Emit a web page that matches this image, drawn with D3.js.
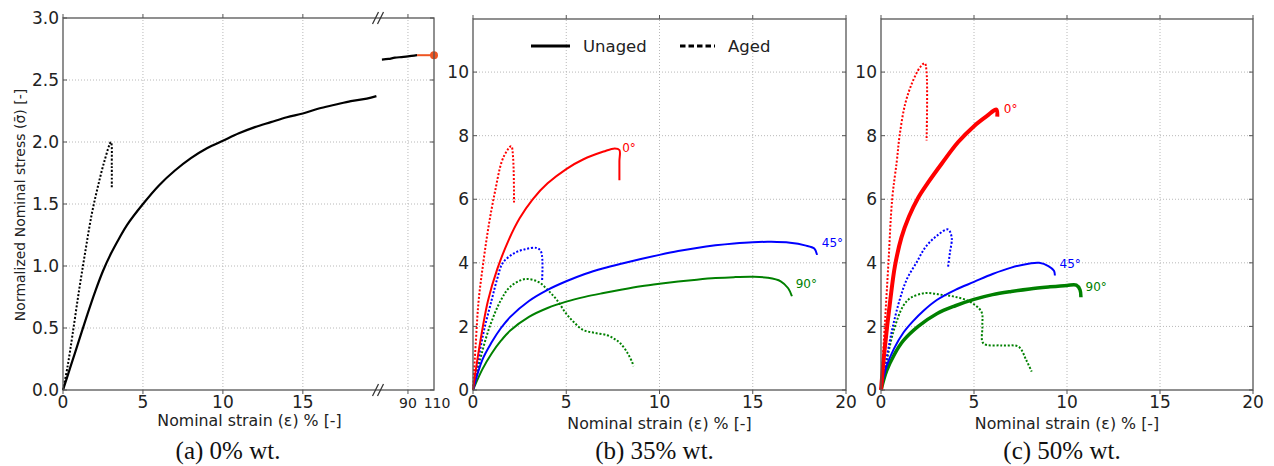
<!DOCTYPE html>
<html><head><meta charset="utf-8">
<script src="https://cdn.jsdelivr.net/npm/d3@7"></script>
<style>body{margin:0;background:#fff}svg{display:block}</style>
</head><body>
<script>
// ---------- tick labels ----------
const stressTicksA = [0, 0.5, 1.0, 1.5, 2.0, 2.5, 3.0];
const strainTicksA1 = [0, 5, 10, 15];
const strainTicksA2 = [90, 110];
const strainTicksBC = [0, 5, 10, 15, 20];
const stressTicksBC = [0, 2, 4, 6, 8, 10];

// ---------- panel (a) 0% wt. ----------
const a_unaged = [[0,0],[0.5,0.2],[1,0.4],[1.5,0.6],[2,0.79],[2.5,0.96],[3,1.1],[3.5,1.22],[4,1.33],[5,1.5],[6,1.65],[7,1.77],[8,1.87],[9,1.95],[10,2.01],[11,2.07],[12,2.12],[13,2.16],[14,2.2],[15,2.23],[16,2.27],[17,2.3],[18,2.33],[19,2.35],[19.6,2.37]];
const a_aged = [[0,0],[0.3,0.2],[0.6,0.45],[1.0,0.8],[1.4,1.12],[1.8,1.42],[2.2,1.65],[2.6,1.85],[3.0,2.0],[3.05,1.8],[3.05,1.63]];
const a_unaged_tail = [[70,2.665],[75,2.67],[80,2.68],[85,2.685],[90,2.69],[97,2.70]];
const a_tail_red = [[97,2.70],[110,2.70]];

// ---------- panel (b) 35% wt. ----------
const b_red_unaged = [[0,0],[0.3,1.2],[0.8,2.8],[1.3,3.8],[1.9,4.7],[2.5,5.4],[3.2,6.0],[4,6.5],[5,6.95],[5.9,7.25],[7,7.5],[7.6,7.6],[7.85,7.55],[7.85,7.2],[7.85,6.6]];
const b_red_aged = [[0,0],[0.15,1.5],[0.3,2.8],[0.55,4.0],[0.85,5.2],[1.2,6.3],[1.55,7.2],[1.85,7.55],[2.05,7.67],[2.15,7.3],[2.2,5.9]];
const b_blue_unaged = [[0,0],[0.5,0.95],[1,1.5],[1.5,1.95],[2,2.3],[3,2.8],[4,3.15],[5,3.42],[6,3.65],[7,3.83],[8,3.98],[9,4.12],[10,4.25],[11,4.37],[12,4.47],[13,4.55],[14,4.61],[15,4.65],[16,4.66],[17,4.63],[17.8,4.55],[18.3,4.45],[18.45,4.25]];
const b_blue_aged = [[0,0],[0.3,1.0],[0.6,1.9],[1.0,2.83],[1.3,3.5],[1.6,4.0],[2.2,4.3],[2.8,4.43],[3.4,4.47],[3.65,4.35],[3.7,3.4]];
const b_green_unaged = [[0,0],[0.5,0.65],[1,1.15],[1.5,1.55],[2,1.87],[3,2.3],[4,2.58],[5,2.78],[6,2.93],[7,3.05],[8,3.16],[9,3.26],[10,3.34],[11,3.41],[12,3.47],[13,3.52],[14,3.55],[15,3.56],[15.8,3.53],[16.5,3.42],[16.9,3.2],[17.1,2.95]];
const b_green_aged = [[0,0],[0.4,1.0],[0.9,2.0],[1.5,2.83],[2.0,3.25],[2.8,3.49],[3.5,3.4],[4.0,3.15],[4.5,2.83],[5.0,2.4],[5.4,2.14],[5.9,1.89],[6.5,1.8],[7.2,1.72],[7.6,1.6],[7.9,1.47],[8.3,1.15],[8.55,0.85],[8.6,0.75]];

// ---------- panel (c) 50% wt. ----------
const c_red_unaged = [[0,0],[0.2,1.3],[0.5,2.83],[0.75,3.9],[1.1,4.8],[1.5,5.45],[2,6.05],[2.5,6.5],[3.3,7.15],[4.15,7.8],[5,8.3],[5.7,8.62],[6.2,8.82],[6.25,8.6]];
const c_red_aged = [[0,0],[0.2,2.0],[0.4,4.0],[0.6,6.0],[0.85,7.2],[1.0,8.0],[1.3,9.0],[1.7,9.7],[2.1,10.15],[2.35,10.28],[2.45,10.0],[2.45,7.85]];
const c_blue_unaged = [[0,0],[0.3,0.75],[0.7,1.3],[1.2,1.8],[1.7,2.15],[2.3,2.5],[3.0,2.83],[4,3.15],[5,3.4],[6,3.65],[7,3.85],[8,3.98],[8.5,4.0],[9,3.9],[9.3,3.75],[9.35,3.6]];
const c_blue_aged = [[0,0],[0.3,1.0],[0.6,1.9],[1.0,2.83],[1.4,3.5],[1.9,4.0],[2.4,4.5],[3.0,4.85],[3.6,5.05],[3.8,4.8],[3.7,4.3],[3.6,3.85]];
const c_green_unaged = [[0,0],[0.3,0.6],[0.7,1.1],[1.2,1.55],[2,2.0],[3,2.4],[4,2.65],[5,2.85],[6,3.0],[7,3.1],[8,3.18],[9,3.24],[10,3.29],[10.5,3.3],[10.7,3.15],[10.75,2.92]];
const c_green_aged = [[0,0],[0.3,0.9],[0.7,1.9],[1.2,2.65],[1.6,2.9],[2.4,3.05],[3.2,3.0],[4,2.93],[4.8,2.77],[5.4,2.46],[5.45,2.0],[5.5,1.47],[6.5,1.4],[7.4,1.36],[7.8,0.95],[8.1,0.58]];

const angleLabels = ["0°", "45°", "90°"];
const legendLabels = ["Unaged", "Aged"];
const titles = ["(a) 0% wt.", "(b) 35% wt.", "(c) 50% wt."];
const xLabel = "Nominal strain (\u03B5) % [-]";
const yLabel = "Normalized Nominal stress (\u03C3\u0304) [-]";

// ---------- drawing ----------
const W = 1274, H = 466;
const svg = d3.select("body").append("svg").attr("width", W).attr("height", H)
  .style("font-family", "'DejaVu Sans', sans-serif");

const RED = "#ff0000", BLUE = "#0000ff", GREEN = "#008000";
const FRAME = "#555", GRID = "#b8b8b8", TXT = "#222";
const DOT = "2,1.8";
const TICKFS = 17, XLFS = 15.8, TITLEFS = 25;
const lineGen = (sx, sy) => d3.line().x(d => sx(d[0])).y(d => sy(d[1])).curve(d3.curveCatmullRom.alpha(0.5));

function grid(g, sx, sy, xt, yt, x0, x1, y0, y1) {
  g.selectAll(null).data(xt).join("line")
    .attr("x1", d => sx(d)).attr("x2", d => sx(d)).attr("y1", y0).attr("y2", y1)
    .attr("stroke", GRID).attr("stroke-dasharray", "1,2").attr("stroke-width", 1);
  g.selectAll(null).data(yt).join("line")
    .attr("y1", d => sy(d)).attr("y2", d => sy(d)).attr("x1", x0).attr("x2", x1)
    .attr("stroke", GRID).attr("stroke-dasharray", "1,2").attr("stroke-width", 1);
}

function ticksIn(g, sx, sy, xt, yt, x0, x1, y0, y1) {
  g.selectAll(null).data(xt).join("path")
    .attr("d", d => `M${sx(d)},${y1}v-4M${sx(d)},${y0}v4`).attr("stroke", FRAME).attr("stroke-width", 1);
  g.selectAll(null).data(yt).join("path")
    .attr("d", d => `M${x0},${sy(d)}h4M${x1},${sy(d)}h-4`).attr("stroke", FRAME).attr("stroke-width", 1);
}

function tickLabels(g, sx, sy, xt, yt, x0, y1, fmtY) {
  g.selectAll(null).data(xt).join("text")
    .attr("x", d => sx(d)).attr("y", y1 + 18).attr("text-anchor", "middle")
    .attr("font-size", TICKFS).attr("fill", TXT).text(d => d);
  g.selectAll(null).data(yt).join("text")
    .attr("x", x0 - 4).attr("y", d => sy(d)).attr("dy", "0.36em").attr("text-anchor", "end")
    .attr("font-size", TICKFS).attr("fill", TXT).text(fmtY);
}

function curve(g, gen, data, color, dashed, width) {
  g.append("path").datum(data).attr("d", gen).attr("fill", "none")
    .attr("stroke", color).attr("stroke-width", width || 2)
    .attr("stroke-dasharray", dashed ? DOT : null).attr("stroke-linejoin", "round");
}

// ===== Panel (a) =====
{
  const L = 63, R = 434, T = 18, B = 390, BRK = 378;
  const g = svg.append("g");
  const sx1 = d3.scaleLinear().domain([0, 19.7]).range([L, BRK]);
  const sx2 = d3.scaleLinear().domain([67, 110]).range([BRK, R]);
  const sy = d3.scaleLinear().domain([0, 3]).range([B, T]);
  grid(g, sx1, sy, strainTicksA1.slice(1), stressTicksA.slice(1, -1), L, R, B, T);
  grid(g, sx2, sy, [90], [], L, R, B, T);
  ticksIn(g, sx1, sy, strainTicksA1, stressTicksA, L, R, B, T);
  ticksIn(g, sx2, sy, [90], [], L, R, B, T);
  tickLabels(g, sx1, sy, strainTicksA1, stressTicksA, L, B, d => d3.format(".1f")(d));
  g.selectAll(null).data(strainTicksA2).join("text")
    .attr("x", (d, i) => sx2(d) + (i ? 3 : 0)).attr("y", B + 18).attr("text-anchor", "middle")
    .attr("font-size", 14).attr("fill", TXT).text(d => d);
  curve(g, lineGen(sx1, sy), a_aged, "#000", true, 2);
  curve(g, lineGen(sx1, sy), a_unaged, "#000", false, 2.2);
  curve(g, lineGen(sx2, sy), a_unaged_tail, "#000", false, 2.2);
  curve(g, lineGen(sx2, sy), a_tail_red, "#ee5522", false, 2);
  g.append("circle").attr("cx", sx2(a_tail_red[1][0])).attr("cy", sy(a_tail_red[1][1])).attr("r", 4).attr("fill", "#ee5522");
  g.append("rect").attr("x", L).attr("y", T).attr("width", R - L).attr("height", B - T)
    .attr("fill", "none").attr("stroke", FRAME).attr("stroke-width", 1.3);
  [T, B].forEach(yy => [-2.5, 2.5].forEach(off => {
    g.append("line").attr("x1", BRK + off - 3).attr("x2", BRK + off + 3).attr("y1", yy + 6).attr("y2", yy - 6)
      .attr("stroke", "#333").attr("stroke-width", 1.2);
  }));
  g.append("text").attr("x", (L + R) / 2 + 1).attr("y", 426).attr("text-anchor", "middle")
    .attr("font-size", XLFS).attr("fill", TXT).text(xLabel);
  g.append("text").attr("transform", `translate(25,205) rotate(-90)`).attr("text-anchor", "middle")
    .attr("font-size", 14).attr("fill", TXT).text(yLabel);
  g.append("text").attr("x", 228).attr("y", 459).attr("text-anchor", "middle")
    .attr("font-family", "'Liberation Serif', serif").attr("font-size", TITLEFS).attr("fill", "#111").text(titles[0]);
}

// ===== Panels (b) and (c) =====
function panelBC(L, R, sets, labels, title, legend) {
  const T = 19, B = 390;
  const g = svg.append("g");
  const sx = d3.scaleLinear().domain([0, 20]).range([L, R]);
  const sy = d3.scaleLinear().domain([0, 11.67]).range([B, T]);
  grid(g, sx, sy, strainTicksBC.slice(1, -1), stressTicksBC.slice(1), L, R, B, T);
  ticksIn(g, sx, sy, strainTicksBC, stressTicksBC, L, R, B, T);
  tickLabels(g, sx, sy, strainTicksBC, stressTicksBC, L, B, d => d);
  const gen = lineGen(sx, sy);
  sets.forEach(s => curve(g, gen, s.data, s.color, s.dashed, s.w));
  labels.forEach(l => g.append("text").attr("x", sx(l.x)).attr("y", sy(l.y)).attr("font-size", 12)
    .attr("fill", l.color).text(l.t));
  g.append("rect").attr("x", L).attr("y", T).attr("width", R - L).attr("height", B - T)
    .attr("fill", "none").attr("stroke", FRAME).attr("stroke-width", 1.3);
  if (legend) {
    const ly = 46;
    g.append("line").attr("x1", L + 58).attr("x2", L + 97).attr("y1", ly).attr("y2", ly).attr("stroke", "#000").attr("stroke-width", 3);
    g.append("text").attr("x", L + 110).attr("y", ly).attr("dy", "0.36em").attr("font-size", 16.5).attr("fill", TXT).text(legendLabels[0]);
    g.append("line").attr("x1", L + 207).attr("x2", L + 242).attr("y1", ly).attr("y2", ly).attr("stroke", "#000")
      .attr("stroke-width", 3).attr("stroke-dasharray", "5.5,3");
    g.append("text").attr("x", L + 255).attr("y", ly).attr("dy", "0.36em").attr("font-size", 16.5).attr("fill", TXT).text(legendLabels[1]);
  }
  g.append("text").attr("x", (L + R) / 2).attr("y", 429).attr("text-anchor", "middle")
    .attr("font-size", XLFS).attr("fill", TXT).text(xLabel);
  g.append("text").attr("x", (L + R) / 2 - 5).attr("y", 459).attr("text-anchor", "middle")
    .attr("font-family", "'Liberation Serif', serif").attr("font-size", TITLEFS).attr("fill", "#111").text(title);
}

panelBC(473, 846, [
  {data: b_green_aged, color: GREEN, dashed: true},
  {data: b_blue_aged, color: BLUE, dashed: true},
  {data: b_red_aged, color: RED, dashed: true},
  {data: b_green_unaged, color: GREEN},
  {data: b_blue_unaged, color: BLUE},
  {data: b_red_unaged, color: RED},
], [
  {x: 8.0, y: 7.5, t: angleLabels[0], color: RED},
  {x: 18.7, y: 4.5, t: angleLabels[1], color: BLUE},
  {x: 17.3, y: 3.2, t: angleLabels[2], color: GREEN},
], titles[1], true);

panelBC(881, 1253, [
  {data: c_green_aged, color: GREEN, dashed: true},
  {data: c_blue_aged, color: BLUE, dashed: true},
  {data: c_red_aged, color: RED, dashed: true},
  {data: c_green_unaged, color: GREEN, w: 3.5},
  {data: c_blue_unaged, color: BLUE},
  {data: c_red_unaged, color: RED, w: 4},
], [
  {x: 6.6, y: 8.7, t: angleLabels[0], color: RED},
  {x: 9.6, y: 3.85, t: angleLabels[1], color: BLUE},
  {x: 11.0, y: 3.1, t: angleLabels[2], color: GREEN},
], titles[2], false);
</script>
</body></html>
